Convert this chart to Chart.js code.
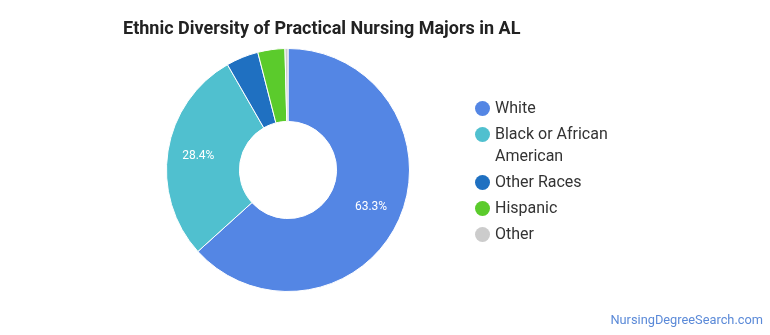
<!DOCTYPE html>
<html><head><meta charset="utf-8">
<script src="https://cdn.jsdelivr.net/npm/chart.js@4.4.1/dist/chart.umd.min.js"></script>
<style>
html,body{margin:0;padding:0;background:#fff;}
#wrap{position:relative;width:770px;height:335px;font-family:Roboto,"Noto Sans",sans-serif;}
#title{position:absolute;left:123px;top:17px;font-size:18px;font-weight:bold;color:#222;white-space:nowrap;}
#legend{position:absolute;left:475px;top:97px;font-size:16px;color:#333;}
.li{position:relative;padding-left:20px;line-height:22px;margin-bottom:4px;}
.dot{position:absolute;left:0;top:4px;width:15px;height:15px;border-radius:50%;}
#foot{position:absolute;right:7px;top:312px;font-size:12.8px;color:#5b8ad8;}
canvas{position:absolute;left:0;top:0;}
</style></head>
<body><div id="wrap">
<canvas id="c" width="770" height="335"></canvas>
<div id="title">Ethnic Diversity of Practical Nursing Majors in AL</div>
<div id="legend"></div>
<div id="foot">NursingDegreeSearch.com</div>
</div>
<script>
const categories = ["White", "Black or African American", "Other Races", "Hispanic", "Other"];
const legendLines = [["White"], ["Black or African", "American"], ["Other Races"], ["Hispanic"], ["Other"]];
const values = [63.3, 28.4, 4.3, 3.6, 0.4];
const colors = ["#5486e4", "#50c0cf", "#1f70c1", "#5bcb2c", "#cccccc"];

const lg = document.getElementById('legend');
legendLines.forEach((lines, i) => {
  const d = document.createElement('div'); d.className = 'li';
  d.innerHTML = '<span class="dot" style="background:' + colors[i] + '"></span>' + lines.join('<br>');
  lg.appendChild(d);
});

const labelPlugin = {
  id: 'sliceLabels',
  afterDatasetsDraw(chart) {
    const ctx = chart.ctx;
    const meta = chart.getDatasetMeta(0);
    ctx.save();
    ctx.font = '12px Roboto, sans-serif';
    ctx.fillStyle = '#ffffff';
    ctx.textAlign = 'center';
    ctx.textBaseline = 'middle';
    meta.data.forEach((arc, i) => {
      if (values[i] < 10) return;
      const p = arc.getProps(['x', 'y', 'startAngle', 'endAngle', 'innerRadius', 'outerRadius']);
      const a = (p.startAngle + p.endAngle) / 2;
      const r = p.innerRadius + (p.outerRadius - p.innerRadius) * 0.58;
      ctx.fillText(values[i].toFixed(1) + '%', p.x + Math.cos(a) * r, p.y + Math.sin(a) * r);
    });
    ctx.restore();
  }
};

new Chart(document.getElementById('c'), {
  type: 'doughnut',
  data: { labels: categories, datasets: [{ data: values, backgroundColor: colors, borderColor: '#ffffff', borderWidth: 1 }] },
  options: {
    responsive: false, animation: false,
    cutout: '40%',
    layout: { padding: { left: 166, right: 360, top: 48, bottom: 43 } },
    plugins: { legend: { display: false }, tooltip: { enabled: false } }
  },
  plugins: [labelPlugin]
});
</script>
</body></html>
